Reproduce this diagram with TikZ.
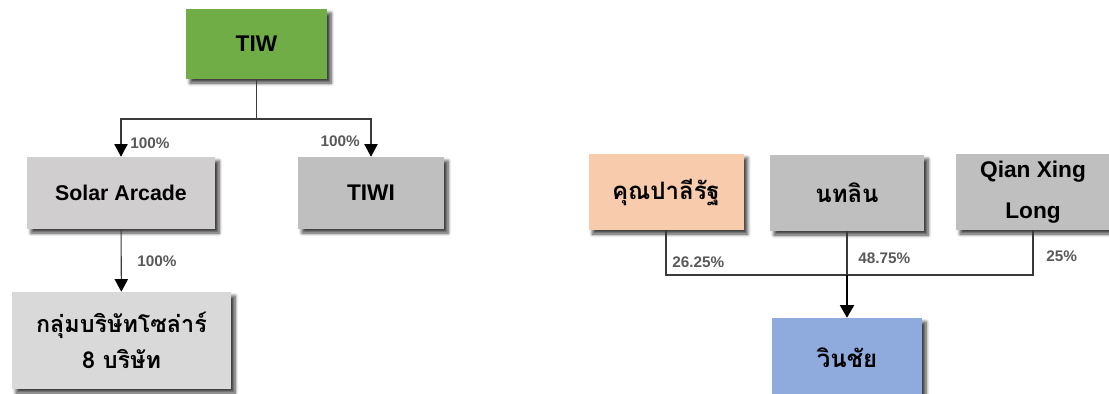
\documentclass[tikz,border=0pt]{standalone}
\usepackage{fontspec}
\setmainfont{Liberation Sans}
\newfontfamily\thai[Script=Thai]{Loma}
\usetikzlibrary{arrows.meta,shadows.blur}
\definecolor{tiwgreen}{HTML}{70AD47}
\definecolor{solargray}{HTML}{D0CECE}
\definecolor{midgray}{HTML}{BFBFBF}
\definecolor{lightgray2}{HTML}{D9D9D9}
\definecolor{peach}{HTML}{F8CBAD}
\definecolor{winblue}{HTML}{8FAADC}
\definecolor{pctgray}{HTML}{595959}
\definecolor{linegray}{HTML}{3A3A3A}
\tikzset{
  orgbox/.style 2 args={rectangle, inner sep=0pt, minimum width=#1*0.75pt, minimum height=#2*0.75pt,
    align=center, font=\bfseries\fontsize{17}{20}\selectfont,
    blur shadow={shadow xshift=3pt, shadow yshift=-3pt, shadow blur radius=2.5pt, shadow blur steps=6, shadow opacity=75}},
  thaitext/.style={font=\thai\bfseries\fontsize{#1}{27}\selectfont},
  pct/.style={font=\bfseries\fontsize{11.5}{13}\selectfont, text=pctgray, inner sep=0pt},
  conn/.style={draw=linegray, line width=0.8pt},
  arr/.style={conn, -{Triangle[width=10pt,length=9.5pt,color=black]}},
  bigarr/.style={draw=black, line width=1.6pt, -{Triangle[width=10.5pt,length=9.5pt]}},
}
\begin{document}
\begin{tikzpicture}[x=0.75pt,y=-0.75pt]
\useasboundingbox (0,0) rectangle (1109,393);
% left tree
\node[orgbox={141}{70}, fill=tiwgreen] (tiw) at (256.5,44) {TIW};
\node[orgbox={188}{72}, fill=solargray, font=\bfseries\fontsize{16}{20}\selectfont] (solar) at (121,193) {Solar Arcade};
\node[orgbox={146}{72}, fill=midgray] (tiwi) at (371,193) {TIWI};
\node[orgbox={219}{97}, fill=lightgray2, thaitext=17.5] (group) at (121.5,340.5) {กลุ่มบริษัทโซล่าร์\\8 บริษัท};
\coordinate (j1) at (256.5,119);
\draw[conn] (tiw) -- (j1);
\draw[arr] (j1) -| (solar.north);
\draw[arr] (j1) -| (tiwi.north);
\draw[arr] (solar) -- (group);
\node[pct, anchor=west] (p1) at (130,143) {100\%};
\node[pct, anchor=east] (p2) at (360,141) {100\%};
\node[pct, anchor=west] (p3) at (137,261) {100\%};
% right tree
\node[orgbox={155}{76}, fill=peach, thaitext=18] (kun) at (666,192) {คุณปาลีรัฐ};
\node[orgbox={154}{76}, fill=midgray, thaitext=18] (ntl) at (847,193) {นทลิน};
\node[orgbox={154}{76}, fill=midgray, font=\bfseries\fontsize{17}{31}\selectfont] (qian) at (1033,192) {Qian Xing\\Long};
\node[orgbox={150}{80}, fill=winblue, thaitext=18] (win) at (847,358) {วินชัย};
\coordinate (j2) at (847,275);
\draw[conn] (kun.south) |- (j2);
\draw[conn] (qian.south) |- (j2);
\draw[conn] (ntl.south) -- (j2);
\draw[bigarr] (j2) -- (win.north);
\node[pct, anchor=west] (p4) at (672,262) {26.25\%};
\node[pct, anchor=west] (p5) at (858,258) {48.75\%};
\node[pct, anchor=west] (p6) at (1046,256) {25\%};
\end{tikzpicture}
\end{document}
